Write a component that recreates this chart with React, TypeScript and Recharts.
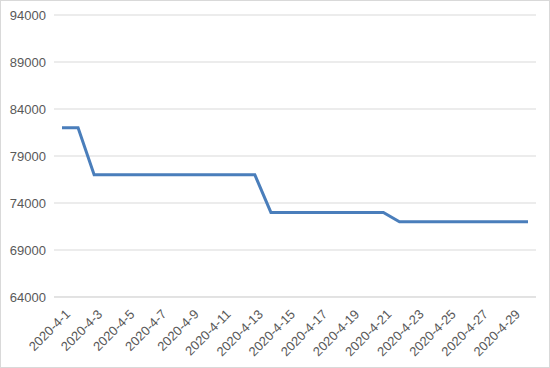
import React from "react";
import { LineChart, Line, XAxis, YAxis, CartesianGrid } from "recharts";

const dates = [
  "2020-4-1", "2020-4-2", "2020-4-3", "2020-4-4", "2020-4-5", "2020-4-6",
  "2020-4-7", "2020-4-8", "2020-4-9", "2020-4-10", "2020-4-11", "2020-4-12",
  "2020-4-13", "2020-4-14", "2020-4-15", "2020-4-16", "2020-4-17", "2020-4-18",
  "2020-4-19", "2020-4-20", "2020-4-21", "2020-4-22", "2020-4-23", "2020-4-24",
  "2020-4-25", "2020-4-26", "2020-4-27", "2020-4-28", "2020-4-29", "2020-4-30",
];

const values = [
  82000, 82000, 77000, 77000, 77000, 77000,
  77000, 77000, 77000, 77000, 77000, 77000,
  77000, 73000, 73000, 73000, 73000, 73000,
  73000, 73000, 73000, 72000, 72000, 72000,
  72000, 72000, 72000, 72000, 72000, 72000,
];

const yTicks = [64000, 69000, 74000, 79000, 84000, 89000, 94000];

const data = dates.map((d, i) => ({ date: d, value: values[i] }));

const font = "'Liberation Sans', Arial, sans-serif";

function DateTick(props: any) {
  const { x, y, payload } = props;
  const ax = x + 9;
  const ay = y + 10;
  return (
    <text
      x={ax}
      y={ay}
      transform={`rotate(-45, ${ax}, ${ay})`}
      textAnchor="end"
      fill="#595959"
      fontSize={13}
      fontFamily={font}
    >
      {payload.value}
    </text>
  );
}

export default function App() {
  return (
    <div
      style={{
        position: "absolute",
        left: 0,
        top: 0,
        width: 550,
        height: 368,
        border: "1px solid #d9d9d9",
        boxSizing: "border-box",
        background: "#fff",
      }}
    >
      <LineChart
        width={548}
        height={366}
        data={data}
        margin={{ top: 14, right: 13, left: 0, bottom: 40 }}
      >
        <CartesianGrid vertical={false} stroke="#d9d9d9" />
        <XAxis
          dataKey="date"
          interval={1}
          height={30}
          tickLine={false}
          axisLine={{ stroke: "#d9d9d9" }}
          padding={{ left: 8, right: 8 }}
          tick={<DateTick />}
        />
        <YAxis
          domain={[64000, 94000]}
          ticks={yTicks}
          width={53}
          axisLine={false}
          tickLine={false}
          tick={{ fill: "#595959", fontSize: 13, fontFamily: font }}
        />
        <Line
          type="linear"
          dataKey="value"
          stroke="#4a7ebb"
          strokeWidth={3}
          dot={false}
          isAnimationActive={false}
        />
      </LineChart>
    </div>
  );
}
